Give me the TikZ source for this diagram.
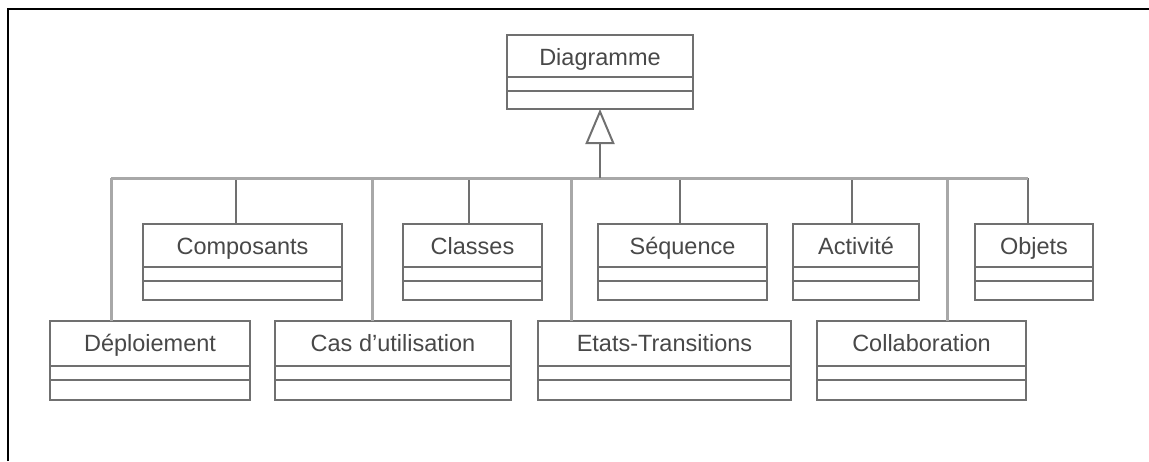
\documentclass[tikz,border=0pt]{standalone}
\usepackage{fontspec}
\setmainfont{Liberation Sans}
\usetikzlibrary{arrows.meta,calc}
\definecolor{umlgray}{RGB}{112,112,112}
\definecolor{umlgraylight}{RGB}{168,168,168}
\definecolor{umltext}{RGB}{72,72,72}

% one UML class: id, left, right, top, height, name
\newcommand{\classbox}[6]{%
  \node[classframe, minimum width={(#3-#2)*1pt}, minimum height={#5*1pt}] (#1) at (#2,#4) {};
  \node[classname] (#1-name) at ($(#1.north)+(0,30)$) {#6};
  \draw[divider] ($(#1.north west)+(0,{0.57*#5})$) -- ($(#1.north east)+(0,{0.57*#5})$);
  \draw[divider] ($(#1.north west)+(0,{0.75*#5})$) -- ($(#1.north east)+(0,{0.75*#5})$);
}

\begin{document}
\begin{tikzpicture}[x=1pt, y=-1pt,
    classframe/.style={draw=umlgray, line width=2pt, fill=white, inner sep=0pt, outer sep=0pt, anchor=north west},
    classname/.style={text=umltext, inner sep=0pt, anchor=base, font=\fontsize{23.5}{28}\selectfont},
    divider/.style={umlgray, line width=2pt},
    bus/.style={umlgraylight, line width=3pt},
    stem/.style={umlgray, line width=2pt},
    stemlight/.style={umlgraylight, line width=3pt},
    inherit/.style={umlgray, line width=2pt, -{Triangle[open, length=35pt, width=29pt]}}]

    \useasboundingbox (0,0) rectangle (1149,461);
    \draw[black, line width=2.5pt] (8,461) -- (8,9) -- (1149,9);

    \classbox{diag}{507}{693}{35}{74}{Diagramme}

    \classbox{compos}{143}{342}{224}{76}{Composants}
    \classbox{classes}{403}{542}{224}{76}{Classes}
    \classbox{sequence}{598}{767}{224}{76}{Séquence}
    \classbox{activite}{793}{919}{224}{76}{Activité}
    \classbox{objets}{975}{1093}{224}{76}{Objets}

    \classbox{deploy}{50}{250}{321}{79}{Déploiement}
    \classbox{usecase}{275}{511}{321}{79}{Cas d'utilisation}
    \classbox{etats}{538}{791}{321}{79}{Etats-Transitions}
    \classbox{collab}{817}{1026}{321}{79}{Collaboration}

    % generalisation bus
    \coordinate (j-diag) at (600,178);
    \foreach \id/\sx in {deploy/111, usecase/372, etats/571, collab/947} {
        \coordinate (j-\id) at (\sx,178);
        \draw[stemlight] (j-\id) -- (j-\id |- \id.north);
    }
    \foreach \id/\sx in {compos/236, classes/469, sequence/680, activite/852, objets/1028} {
        \coordinate (j-\id) at (\sx,178);
        \draw[stem] (j-\id) -- (j-\id |- \id.north);
    }
    \draw[bus] (j-deploy) -- (j-objets);
    \draw[inherit] (j-diag) -- (j-diag |- diag.south);
\end{tikzpicture}
\end{document}
